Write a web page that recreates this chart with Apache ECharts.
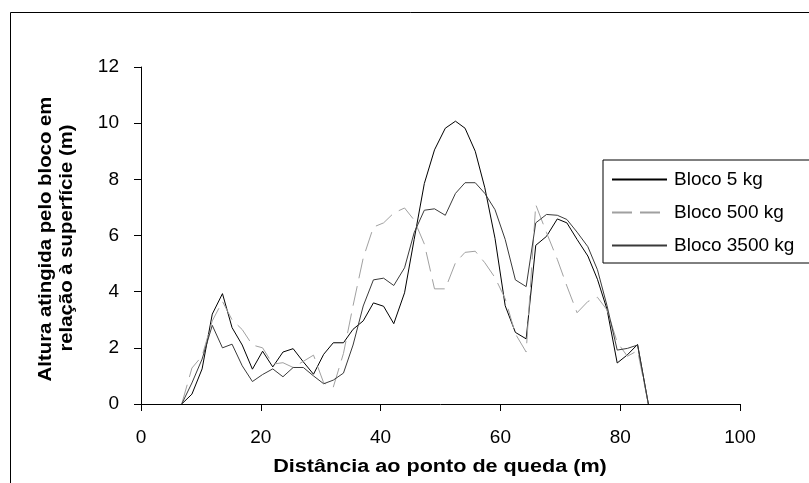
<!DOCTYPE html>
<html>
<head>
<meta charset="utf-8">
<script src="https://cdn.jsdelivr.net/npm/echarts@6/dist/echarts.min.js"></script>
<style>
html,body{margin:0;padding:0;background:#fff;}
#chart{width:809px;height:483px;}
</style>
</head>
<body>
<div id="chart"></div>
<script>
// Distance from the drop point (m)
var distances = [6.8, 8.5, 10.2, 11.9, 13.6, 15.2, 16.9, 18.6, 20.3, 22.0, 23.7, 25.4, 27.1, 28.8, 30.5, 32.1, 33.8, 35.4, 37.1, 38.8, 40.5, 42.2, 44.0, 45.6, 47.3, 49.0, 50.8, 52.5, 54.1, 55.8, 57.4, 59.1, 60.8, 62.5, 64.3, 65.9, 67.7, 69.5, 71.1, 72.8, 74.6, 76.2, 77.8, 79.5, 81.2, 82.9, 84.7];
// Height reached (m)
var bloco5 = [0, 0.35, 1.25, 3.2, 3.93, 2.72, 2.1, 1.24, 1.88, 1.32, 1.85, 1.97, 1.5, 1.06, 1.77, 2.18, 2.18, 2.66, 2.96, 3.6, 3.48, 2.86, 3.96, 5.86, 7.85, 9.05, 9.82, 10.07, 9.82, 9.0, 7.7, 5.9, 3.5, 2.55, 2.32, 5.65, 5.97, 6.59, 6.45, 5.86, 5.27, 4.44, 3.37, 1.46, 1.75, 2.12, 0];
var bloco500 = [0, 1.28, 1.71, 2.96, 3.65, 3.0, 2.65, 2.1, 2.0, 1.42, 1.47, 1.3, 1.52, 1.74, 0.75, 0.6, 1.8, 3.5, 5.2, 6.3, 6.45, 6.8, 6.98, 6.55, 5.7, 4.1, 4.1, 5.03, 5.4, 5.44, 5.03, 4.5, 3.75, 2.5, 1.85, 7.1, 6.1, 5.15, 4.2, 3.25, 3.65, 3.8, 3.35, 2.2, 1.7, 1.9, 0];
var bloco3500 = [0, 0.75, 1.6, 2.8, 2.0, 2.13, 1.36, 0.8, 1.05, 1.25, 0.97, 1.3, 1.3, 1.0, 0.72, 0.85, 1.1, 2.1, 3.49, 4.42, 4.48, 4.22, 4.85, 6.1, 6.9, 6.95, 6.72, 7.5, 7.88, 7.88, 7.5, 6.92, 5.86, 4.42, 4.18, 6.45, 6.75, 6.72, 6.57, 6.12, 5.6, 4.78, 3.5, 1.92, 1.98, 2.1, 0];
var seriesNames = ['Bloco 5 kg', 'Bloco 500 kg', 'Bloco 3500 kg'];
var xTitle = 'Distância ao ponto de queda (m)';
var yTitle1 = 'Altura atingida pelo bloco em';
var yTitle2 = 'relação à superfície (m)';

function pairs(ys) {
  return distances.map(function (x, i) { return [x, ys[i]]; });
}

var FONT = '"Liberation Sans", Arial, sans-serif';
var chart = echarts.init(document.getElementById('chart'), null, {renderer: 'canvas'});
chart.setOption({
  animation: false,
  backgroundColor: '#fff',
  grid: {left: 141, top: 67, right: 69, bottom: 79, containLabel: false, outerBoundsMode: 'none'},
  xAxis: {
    type: 'value', min: 0, max: 100, interval: 20,
    axisLine: {show: true, onZero: false, lineStyle: {color: '#000', width: 1}},
    axisTick: {show: true, length: 7, lineStyle: {color: '#000'}},
    splitLine: {show: false},
    axisLabel: {color: '#000', fontSize: 19, fontFamily: FONT, margin: 24}
  },
  yAxis: {
    type: 'value', min: 0, max: 12, interval: 2,
    axisLine: {show: true, lineStyle: {color: '#000', width: 1}},
    axisTick: {show: true, length: 7, lineStyle: {color: '#000'}},
    splitLine: {show: false},
    axisLabel: {color: '#000', fontSize: 19, fontFamily: FONT, margin: 22}
  },
  legend: {
    orient: 'vertical', left: 603, top: 160,
    padding: [10, 40, 8, 8], itemGap: 14,
    itemWidth: 55, itemHeight: 14,
    borderColor: '#000', borderWidth: 1, backgroundColor: '#fff',
    itemStyle: {opacity: 0},
    textStyle: {color: '#000', fontSize: 19, fontFamily: FONT, padding: [0, 0, 0, 2]},
    data: seriesNames
  },
  series: [
    {name: seriesNames[0], type: 'line', data: pairs(bloco5), symbol: 'none', symbolSize: 0, showSymbol: false,
     lineStyle: {color: '#000', width: 1}, itemStyle: {color: '#000'}},
    {name: seriesNames[1], type: 'line', data: pairs(bloco500), symbol: 'none', symbolSize: 0, showSymbol: false,
     lineStyle: {color: '#a0a0a0', width: 1, type: [20, 8]}, itemStyle: {color: '#a0a0a0'}},
    {name: seriesNames[2], type: 'line', data: pairs(bloco3500), symbol: 'none', symbolSize: 0, showSymbol: false,
     lineStyle: {color: '#3a3a3a', width: 1}, itemStyle: {color: '#3a3a3a'}}
  ],
  graphic: [
    {type: 'rect', left: 8, top: 10, silent: true, z: -10,
     shape: {x: 0, y: 0, width: 900, height: 600},
     style: {fill: 'none', stroke: '#000', lineWidth: 1}},
    {type: 'text', x: 440, y: 467, scaleX: 1.2, silent: true,
     style: {text: xTitle, font: 'bold 18px ' + FONT, fill: '#000', align: 'center', verticalAlign: 'middle'}},
    {type: 'text', x: 46, y: 239, rotation: Math.PI / 2, scaleX: 1.13, silent: true,
     style: {text: yTitle1, font: 'bold 18px ' + FONT, fill: '#000', align: 'center', verticalAlign: 'middle'}},
    {type: 'text', x: 67, y: 238, rotation: Math.PI / 2, scaleX: 1.13, silent: true,
     style: {text: yTitle2, font: 'bold 18px ' + FONT, fill: '#000', align: 'center', verticalAlign: 'middle'}}
  ]
});
</script>
</body>
</html>
